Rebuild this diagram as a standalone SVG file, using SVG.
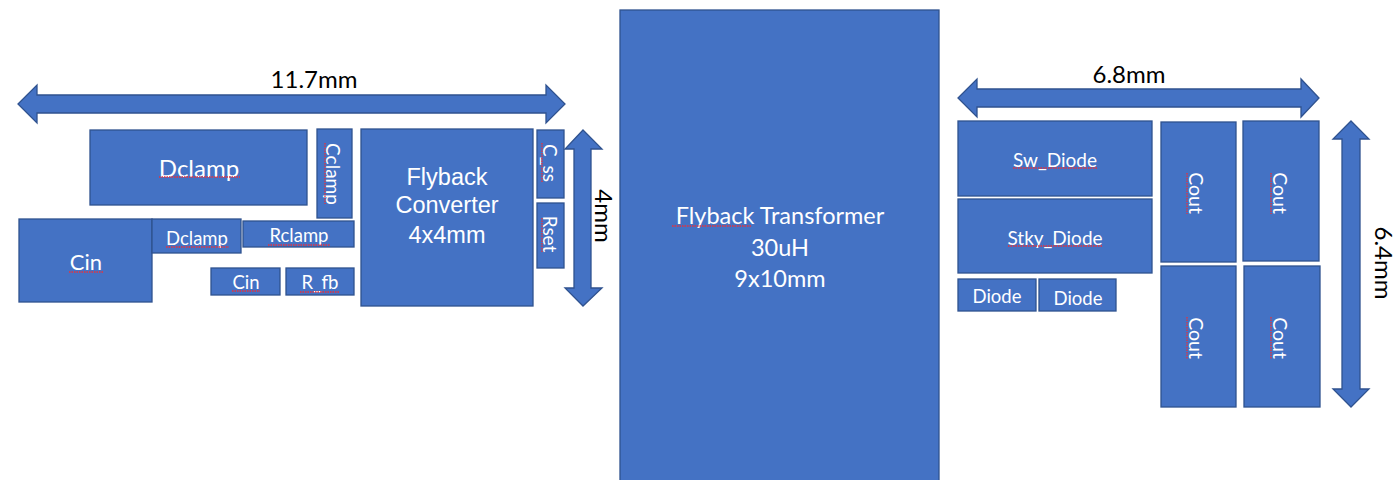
<svg xmlns="http://www.w3.org/2000/svg" width="1399" height="480" viewBox="0 0 1399 480">
<style>
.b{fill:#4472C4;stroke:#2F528F;stroke-width:1.3}
.t{fill:#fff;font-family:Lato,"Open Sans",sans-serif;text-anchor:middle;dominant-baseline:central}
.a{font-family:"Liberation Sans",Arial,sans-serif}
.d{fill:#000;font-family:Lato,"Open Sans",sans-serif;font-size:24px;text-anchor:middle;dominant-baseline:central}
.s{stroke:#E8323C;stroke-width:1.3;stroke-dasharray:1.5 1;fill:none}
</style>
<rect width="1399" height="480" fill="#fff"/>
<g id="connectors">
<polygon class="b" points="18,104 37,85 37,95 546,95 546,85 565,104 546,123 546,113 37,113 37,123"/>
<polygon class="b" points="583,130 602,149 591,149 591,288 602,288 583,306 565,288 574,288 574,149 565,149"/>
<polygon class="b" points="958,98 977,79 977,89 1301,89 1301,79 1319,98 1301,117 1301,107 977,107 977,117"/>
<polygon class="b" points="1351,121 1369,139 1360,139 1360,389 1369,389 1351,407 1333,389 1342,389 1342,139 1333,139"/>
<text class="d" x="314" y="78">11.7mm</text>
<text class="d" x="1129" y="73">6.8mm</text>
<text class="d" transform="translate(604,216) rotate(90)">4mm</text>
<text class="d" transform="translate(1384,263) rotate(90)">6.4mm</text>
</g>
<g id="dclamp-big"><rect class="b" x="90" y="130" width="217" height="75"/><text class="t" x="199" y="167" font-size="24">Dclamp</text><line class="s" x1="159" y1="177" x2="240" y2="177"/></g>
<g id="cclamp"><rect class="b" x="317" y="129" width="35" height="89"/><text class="t" font-size="19" transform="translate(333,174) rotate(90)">Cclamp</text><line class="s" x1="325" y1="143" x2="325" y2="204"/></g>
<g id="cin-big"><rect class="b" x="19" y="219" width="133" height="83"/><text class="t" x="86" y="261" font-size="22">Cin</text><line class="s" x1="69" y1="272" x2="103" y2="272"/></g>
<g id="dclamp-small"><rect class="b" x="152" y="219" width="89" height="34"/><text class="t" x="197" y="238" font-size="18.5">Dclamp</text><line class="s" x1="166" y1="247" x2="229" y2="247"/></g>
<g id="rclamp"><rect class="b" x="243" y="221" width="111" height="26"/><text class="t" x="299" y="235" font-size="18.5">Rclamp</text><line class="s" x1="268" y1="245" x2="330" y2="245"/></g>
<g id="cin-small"><rect class="b" x="211" y="268" width="69" height="27"/><text class="t" x="246" y="282" font-size="18.5">Cin</text><line class="s" x1="232" y1="291" x2="260" y2="291"/></g>
<g id="r-fb"><rect class="b" x="286" y="268" width="68" height="27"/><text class="t" x="320" y="282" font-size="18.5">R_fb</text><line class="s" x1="300" y1="292" x2="339" y2="292"/></g>
<g id="flyback-converter"><rect class="b" x="361" y="129" width="172" height="177"/>
<text class="t a" x="447" y="177" font-size="23.5">Flyback</text>
<text class="t a" x="447" y="205" font-size="23.5">Converter</text>
<text class="t a" x="447" y="235" font-size="23.5">4x4mm</text></g>
<g id="c-ss"><rect class="b" x="537" y="130" width="27" height="68"/><text class="t" font-size="19" transform="translate(550,163) rotate(90)">C_ss</text><line class="s" x1="542" y1="143" x2="542" y2="183"/></g>
<g id="rset"><rect class="b" x="537" y="203" width="27" height="65"/><text class="t" font-size="19" transform="translate(550,234) rotate(90)">Rset</text><line class="s" x1="542" y1="218" x2="542" y2="252"/></g>
<g id="transformer"><rect class="b" x="620" y="10" width="319" height="475"/>
<text class="t" x="780" y="215" font-size="23.5">Flyback Transformer</text>
<text class="t" x="780" y="247" font-size="23.5">30uH</text>
<text class="t" x="780" y="278" font-size="23.5">9x10mm</text><line class="s" x1="672" y1="226" x2="752" y2="226"/></g>
<g id="sw-diode"><rect class="b" x="958" y="121" width="194" height="75"/><text class="t" x="1055" y="159" font-size="19">Sw_Diode</text><line class="s" x1="1013" y1="168" x2="1097" y2="168"/></g>
<g id="stky-diode"><rect class="b" x="958" y="199" width="194" height="74"/><text class="t" x="1055" y="237" font-size="19">Stky_Diode</text><line class="s" x1="1008" y1="246" x2="1103" y2="246"/></g>
<g id="diode-1"><rect class="b" x="958" y="279" width="78" height="32"/><text class="t" x="997" y="296" font-size="18.5">Diode</text></g>
<g id="diode-2"><rect class="b" x="1039" y="279" width="77" height="32"/><text class="t" x="1078" y="298" font-size="18.5">Diode</text></g>
<g id="cout-1"><rect class="b" x="1161" y="122" width="75" height="140"/><text class="t" font-size="19.5" transform="translate(1196,193) rotate(90)">Cout</text><line class="s" x1="1187" y1="173" x2="1187" y2="214"/></g>
<g id="cout-2"><rect class="b" x="1243" y="121" width="76" height="140"/><text class="t" font-size="19.5" transform="translate(1280,193) rotate(90)">Cout</text><line class="s" x1="1271" y1="173" x2="1271" y2="214"/></g>
<g id="cout-3"><rect class="b" x="1161" y="266" width="75" height="141"/><text class="t" font-size="19.5" transform="translate(1196,338) rotate(90)">Cout</text><line class="s" x1="1187" y1="317" x2="1187" y2="359"/></g>
<g id="cout-4"><rect class="b" x="1244" y="266" width="76" height="141"/><text class="t" font-size="19.5" transform="translate(1280,338) rotate(90)">Cout</text><line class="s" x1="1271" y1="317" x2="1271" y2="359"/></g>
</svg>
